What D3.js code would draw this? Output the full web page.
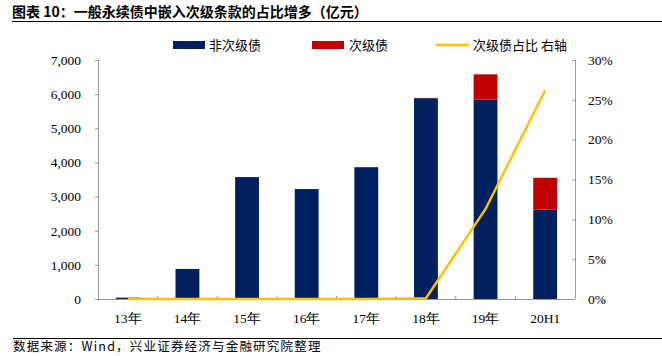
<!DOCTYPE html>
<html><head><meta charset="utf-8">
<script src="https://cdn.jsdelivr.net/npm/d3@7/dist/d3.min.js"></script>
<style>
body{margin:0;background:#fff;}
svg{display:block;}
</style></head>
<body><svg id="c" width="662" height="356"></svg>
<script>
const categories = ["13年","14年","15年","16年","17年","18年","19年","20H1"];
const nonSub = [40, 880, 3570, 3220, 3860, 5880, 5840, 2620];
const sub = [0, 0, 0, 0, 0, 10, 740, 930];
const ratio = [0, 0, 0, 0, 0, 0.1, 11.3, 26.2];
const leftTicks = [0,1000,2000,3000,4000,5000,6000,7000];
const rightTicks = [0,5,10,15,20,25,30];
const seriesNames = ["非次级债","次级债","次级债占比 右轴"];
const colors = ["#002060","#C00000","#FFC000"];

const svg = d3.select("#c");
const serif = "'Liberation Serif','Times New Roman',serif";
const cjk = "'Noto Sans CJK SC','Noto Sans',sans-serif";

// title
svg.append("text").attr("x",12).attr("y",17).attr("font-family",cjk).attr("font-weight","bold")
  .attr("font-size",14).attr("fill","#000").text("图表 10：一般永续债中嵌入次级条款的占比增多（亿元）");
svg.append("line").attr("x1",12).attr("x2",662).attr("y1",21.5).attr("y2",21.5).attr("stroke","#000").attr("stroke-width",1);
svg.append("line").attr("x1",13).attr("x2",662).attr("y1",338.5).attr("y2",338.5).attr("stroke","#000").attr("stroke-width",1);
svg.append("text").attr("x",13).attr("y",351).attr("font-family",cjk).attr("font-size",12.5).attr("letter-spacing",1.2).attr("fill","#000")
  .text("数据来源：Wind，兴业证券经济与金融研究院整理");

const L = 98, R = 575, T = 60, B = 299;
const x = d3.scaleBand().domain(categories).range([L,R]).paddingInner(0.6).paddingOuter(0.3);
const yL = d3.scaleLinear().domain([0,7000]).range([B,T]);
const yR = d3.scaleLinear().domain([0,30]).range([B,T]);

// bars
const g = svg.append("g");
categories.forEach((c,i)=>{
  g.append("rect").attr("x",x(c)).attr("width",x.bandwidth()).attr("y",yL(nonSub[i])).attr("height",B-yL(nonSub[i])).attr("fill",colors[0]);
  if(sub[i]>0) g.append("rect").attr("x",x(c)).attr("width",x.bandwidth()).attr("y",yL(nonSub[i]+sub[i])).attr("height",yL(nonSub[i])-yL(nonSub[i]+sub[i])).attr("fill",colors[1]);
});

// axes
const axisColor = "#999";
const ga = svg.append("g").attr("transform",`translate(${L},0)`).call(d3.axisLeft(yL).tickValues(leftTicks).tickFormat(d3.format(",")).tickSize(3).tickPadding(14));
const gr = svg.append("g").attr("transform",`translate(${R},0)`).call(d3.axisRight(yR).tickValues(rightTicks).tickFormat(d=>d+"%").tickSize(-3).tickPadding(13));
[ga,gr].forEach(a=>{
  a.selectAll(".tick line").attr("stroke",axisColor);
  a.selectAll("text").attr("font-family",serif).attr("font-size",13.5).attr("fill","#000");
});
ga.select(".domain").remove(); gr.select(".domain").remove();
svg.append("line").attr("x1",L+0.5).attr("x2",L+0.5).attr("y1",T).attr("y2",B).attr("stroke",axisColor);
svg.append("line").attr("x1",R+0.5).attr("x2",R+0.5).attr("y1",T).attr("y2",B).attr("stroke",axisColor);

// bottom axis
const step = x.step();
const gb = svg.append("g").attr("transform",`translate(0,${B})`).call(d3.axisBottom(x).tickSize(0).tickPadding(14));
gb.select(".domain").remove();
gb.selectAll("text").attr("font-family",serif).attr("font-size",13.5).attr("fill","#000");
svg.append("line").attr("x1",L).attr("x2",R).attr("y1",B+0.5).attr("y2",B+0.5).attr("stroke",axisColor);
const bounds = d3.range(1,categories.length).map(i=>x(categories[i]) - (step - x.bandwidth())/2);
svg.selectAll(".xt").data(bounds).enter().append("line").attr("x1",d=>d).attr("x2",d=>d).attr("y1",B-3).attr("y2",B).attr("stroke",axisColor);

// line
const line = d3.line().x((d,i)=>x(categories[i])+x.bandwidth()/2).y(d=>yR(d));
svg.append("path").datum(ratio).attr("d",line).attr("fill","none").attr("stroke",colors[2]).attr("stroke-width",2.5);

// legend
const lg = svg.append("g").attr("font-family",cjk).attr("font-size",13).attr("fill","#000");
lg.append("rect").attr("x",173).attr("y",41).attr("width",32).attr("height",8).attr("fill",colors[0]);
lg.append("text").attr("x",209).attr("y",50).text(seriesNames[0]);
lg.append("rect").attr("x",312).attr("y",41).attr("width",32).attr("height",8).attr("fill",colors[1]);
lg.append("text").attr("x",349).attr("y",50).text(seriesNames[1]);
lg.append("line").attr("x1",436).attr("x2",469).attr("y1",45).attr("y2",45).attr("stroke",colors[2]).attr("stroke-width",2.5);
lg.append("text").attr("x",473).attr("y",50).text(seriesNames[2]);
</script></body></html>
